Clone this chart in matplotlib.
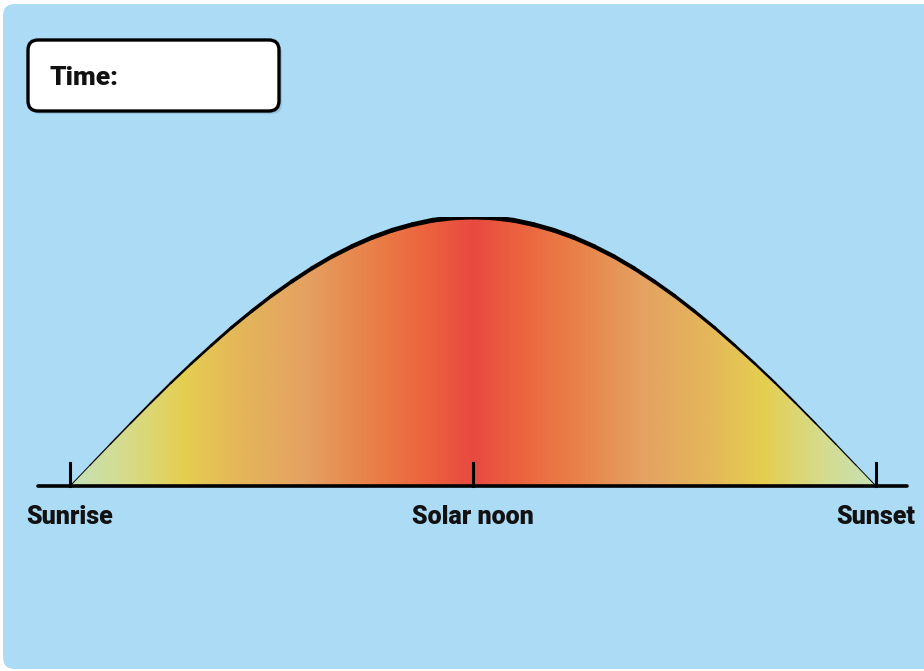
'''Sun path across the sky: sunrise -> solar noon -> sunset'''
import numpy as np
import matplotlib
matplotlib.use('Agg')
import matplotlib.pyplot as plt
from matplotlib.colors import LinearSegmentedColormap
from matplotlib.collections import LineCollection
from matplotlib.patches import FancyBboxPatch

W, H = 924, 671

# sun elevation (relative to the peak), sunrise -> sunset
hour_offset = np.linspace(-1, 1, 41)
elevation = [0.000, 0.078, 0.156, 0.233, 0.309, 0.383, 0.454, 0.522, 0.588, 0.649,
             0.707, 0.760, 0.809, 0.853, 0.891, 0.924, 0.951, 0.972, 0.988, 0.997,
             1.000,
             0.997, 0.988, 0.972, 0.951, 0.924, 0.891, 0.853, 0.809, 0.760, 0.707,
             0.649, 0.588, 0.522, 0.454, 0.383, 0.309, 0.233, 0.156, 0.078, 0.000]
tick_pos = [-1, 0, 1]
tick_labels = ['Sunrise', 'Solar noon', 'Sunset']
box_label = 'Time:'

# colour by distance from noon
grad_stops = [(0.00, '#e84a40'), (0.12, '#ec643e'), (0.25, '#e98048'),
              (0.42, '#e4a262'), (0.58, '#e4b65a'), (0.72, '#e5ce50'),
              (0.86, '#d6db8a'), (1.00, '#c5e1b8')]

BG = '#acdbf5'
FONT = 'Roboto'

fig = plt.figure(figsize=(W / 100, H / 100), dpi=100, facecolor='white')

# background layer in pixel coords
bg = fig.add_axes([0, 0, 1, 1])
bg.set_xlim(0, W)
bg.set_ylim(H, 0)
bg.axis('off')
bg.add_patch(FancyBboxPatch((3, 4), W + 20, H - 6, boxstyle='round,pad=0,rounding_size=12',
                            fc=BG, ec='none'))
bg.add_patch(FancyBboxPatch((30, 43), 252, 71, boxstyle='round,pad=0,rounding_size=10',
                            fc='#7fa8c0', ec='none', alpha=0.5))
bg.add_patch(FancyBboxPatch((28, 40), 251, 71, boxstyle='round,pad=0,rounding_size=10',
                            fc='white', ec='black', lw=2.4))
bg.text(50, 78, box_label, fontsize=19, fontweight='heavy', family=FONT,
        va='center', ha='left', color='#111111')

# chart layer: x -1..1 is sunrise..sunset, y 0..1 is horizon..peak
x0, x1, yb, yt = 70, 876, 486, 217
ax = fig.add_axes([x0 / W, (H - yb) / H, (x1 - x0) / W, (yb - yt) / H])
ax.set_xlim(-1, 1)
ax.set_ylim(0, 1)
ax.axis('off')
ax.patch.set_alpha(0)

cmap = LinearSegmentedColormap.from_list('sun', grad_stops)
xs = np.linspace(-1, 1, 900)
img = ax.imshow(np.abs(xs)[None, :], cmap=cmap, vmin=0, vmax=1, aspect='auto',
                extent=[-1, 1, 0, 1], origin='lower', interpolation='bilinear')
fill = ax.fill_between(hour_offset, 0, elevation, color='none', lw=0)
clip = fill.get_paths()[0]
img.set_clip_path(clip, transform=ax.transData)

# outline: thin near the horizon, thick at the top
pts = np.column_stack([hour_offset, elevation])
segs = np.stack([pts[:-1], pts[1:]], axis=1)
mid = (np.array(elevation[:-1]) + np.array(elevation[1:])) / 2
lc = LineCollection(segs, colors='black', linewidths=0.6 + 2.9 * mid ** 1.1,
                    capstyle='round', joinstyle='round', zorder=3)
ax.add_collection(lc)

# horizon line and ticks
px = 1 / 403
py = 1 / 269
ax.plot([-1 - 32 * px, 1 + 31 * px], [0, 0], color='black', lw=2.6,
        solid_capstyle='round', clip_on=False, zorder=4)
for xp, lab in zip(tick_pos, tick_labels):
    ax.plot([xp, xp], [0, 23 * py], color='black', lw=2.2, clip_on=False, zorder=4)
    ax.text(xp, -31 * py, lab, ha='center', va='center', fontsize=18,
            fontweight='heavy', family=FONT, color='#111111')

fig.savefig('out.png', dpi=100, facecolor='white')
